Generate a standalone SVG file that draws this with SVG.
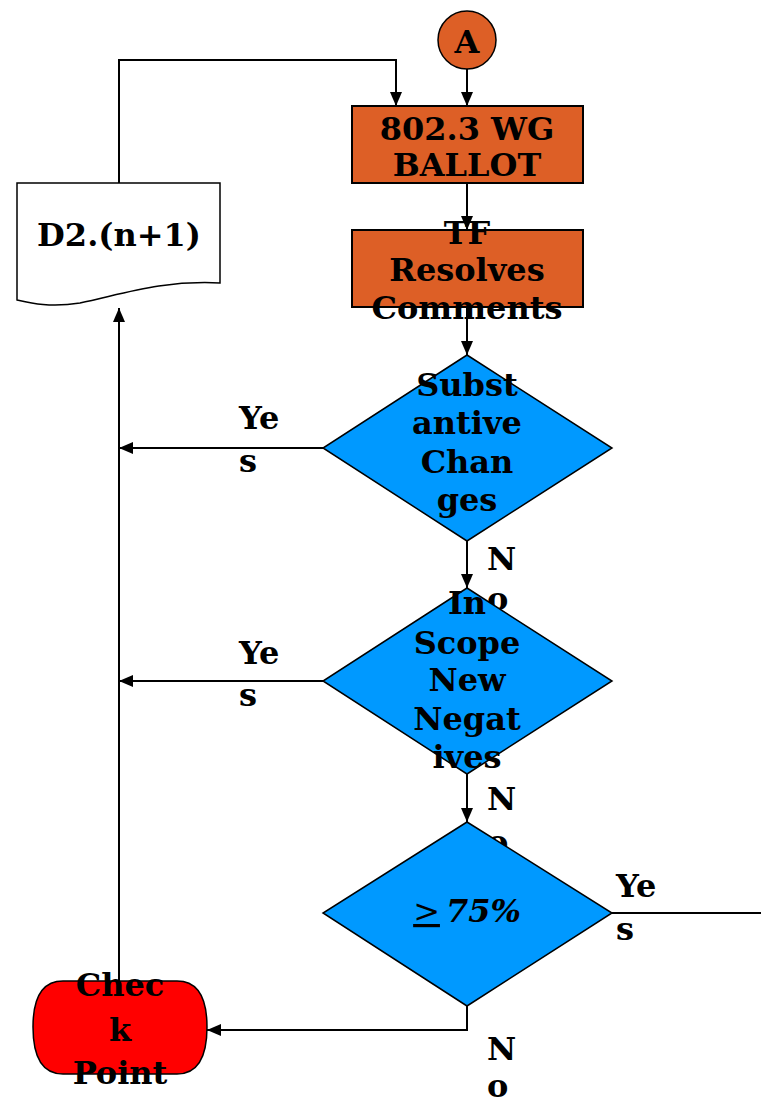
<svg xmlns="http://www.w3.org/2000/svg" width="761" height="1104" viewBox="0 0 761 1104">
<style>
text{font-family:"DejaVu Serif","Liberation Serif",serif;font-weight:bold;font-size:32px;fill:#000;text-anchor:middle}
.lbl{text-anchor:start}
.box{fill:#DD5F26;stroke:#000;stroke-width:2}
.dia{fill:#0099FF;stroke:#000;stroke-width:1.5}
.ln{fill:none;stroke:#000;stroke-width:2}
</style>
<defs>
<marker id="ah" viewBox="0 0 14 12" refX="14" refY="6" markerWidth="14" markerHeight="12" markerUnits="userSpaceOnUse" orient="auto">
<path d="M0,0 L14,6 L0,12 Z" fill="#000"/>
</marker>
</defs>
<rect width="761" height="1104" fill="#fff"/>
<g id="connectors">
<line class="ln" x1="467" y1="69" x2="467" y2="106" marker-end="url(#ah)"/>
<polyline class="ln" points="119,183 119,60 396,60 396,106" marker-end="url(#ah)"/>
<line class="ln" x1="467" y1="183" x2="467" y2="230" marker-end="url(#ah)"/>
<line class="ln" x1="467" y1="307" x2="467" y2="355" marker-end="url(#ah)"/>
<line class="ln" x1="323" y1="448" x2="119" y2="448" marker-end="url(#ah)"/>
<line class="ln" x1="467" y1="541" x2="467" y2="588" marker-end="url(#ah)"/>
<line class="ln" x1="323" y1="681" x2="119" y2="681" marker-end="url(#ah)"/>
<line class="ln" x1="467" y1="774" x2="467" y2="822" marker-end="url(#ah)"/>
<line class="ln" x1="612" y1="913" x2="761" y2="913"/>
<polyline class="ln" points="467,1006 467,1030 207,1030" marker-end="url(#ah)"/>
<line class="ln" x1="119" y1="981" x2="119" y2="308" marker-end="url(#ah)"/>
<text class="lbl" x="239" y="429">Ye</text>
<text class="lbl" x="239" y="472">s</text>
<text class="lbl" x="487" y="570">N</text>
<text class="lbl" x="487" y="610">o</text>
<text class="lbl" x="239" y="664">Ye</text>
<text class="lbl" x="239" y="706">s</text>
<text class="lbl" x="487" y="810">N</text>
<text class="lbl" x="487" y="853">o</text>
<text class="lbl" x="616" y="897">Ye</text>
<text class="lbl" x="616" y="940">s</text>
<text class="lbl" x="487" y="1060">N</text>
<text class="lbl" x="487" y="1097">o</text>
</g>
<g id="nodeA">
<circle cx="467" cy="40" r="29" fill="#DD5F26" stroke="#000" stroke-width="1.5"/>
<text x="467" y="53" font-size="36">A</text>
</g>
<g id="ballot">
<rect class="box" x="352" y="106" width="231" height="77"/>
<text x="467" y="140">802.3 WG</text>
<text x="467" y="176">BALLOT</text>
</g>
<g id="resolves">
<rect class="box" x="352" y="230" width="231" height="77"/>
<text x="467" y="244">TF</text>
<text x="467" y="281">Resolves</text>
<text x="467" y="319">Comments</text>
</g>
<g id="substantive">
<polygon class="dia" points="467,355 612,448 467,541 323,448"/>
<text x="467" y="396">Subst</text>
<text x="467" y="434">antive</text>
<text x="467" y="473">Chan</text>
<text x="467" y="511">ges</text>
</g>
<g id="inscope">
<polygon class="dia" points="467,588 612,681 467,774 323,681"/>
<text x="467" y="614">In</text>
<text x="467" y="654">Scope</text>
<text x="467" y="691">New</text>
<text x="467" y="730">Negat</text>
<text x="467" y="768">ives</text>
</g>
<g id="pct">
<polygon class="dia" points="467,822 612,913 467,1006 323,913"/>
<text x="467" y="922"><tspan font-weight="normal" text-decoration="underline">&gt;</tspan><tspan dx="6" font-style="italic">75%</tspan></text>
</g>
<g id="d2">
<path d="M17,183 H220 V283 C160,280 120,295 80,303 C50,308 30,303 17,300 Z" fill="#fff" stroke="#000" stroke-width="1.5"/>
<text x="119" y="246">D2.(n+1)</text>
</g>
<g id="checkpoint">
<path d="M63,981 H177 Q207,981 207,1027 Q207,1074 177,1074 H63 Q33,1074 33,1027 Q33,981 63,981 Z" fill="#FF0000" stroke="#000" stroke-width="1.5"/>
<text x="120" y="996">Chec</text>
<text x="120" y="1041">k</text>
<text x="120" y="1084">Point</text>
</g>
</svg>
